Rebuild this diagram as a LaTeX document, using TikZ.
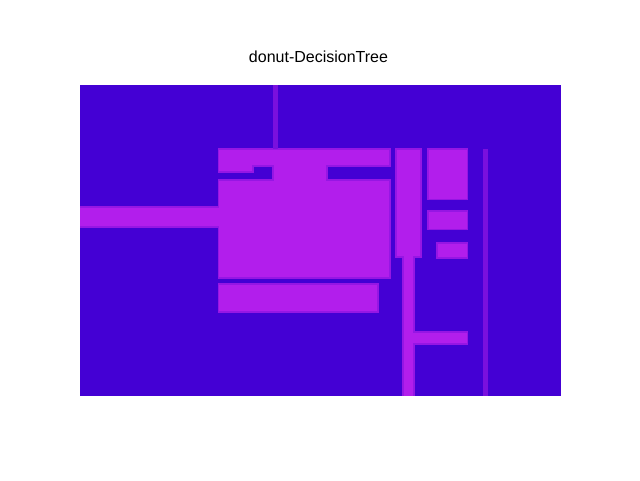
\documentclass[tikz,border=0pt]{standalone}
\usepackage{fontspec}
\setmainfont{Liberation Sans}
\definecolor{treeblue}{RGB}{68,0,212}
\definecolor{treeleaf}{RGB}{178,30,236}
\definecolor{treeedge}{RGB}{150,22,228}
\definecolor{treesplit}{RGB}{122,16,222}
\begin{document}
\begin{tikzpicture}[x=0.75pt,y=-0.75pt,
    leaf/.style={fill=treeleaf, draw=treeedge, line width=0.9pt, line join=miter},
    split/.style={fill=treesplit}]
        \useasboundingbox (0,0) rectangle (640,480);

        % Title
        \node (title) at (318.5,56.5) {\fontsize{12}{14}\selectfont donut-DecisionTree};

        % Background of the axes
        \fill[treeblue] (80,85) rectangle (561,396);

        \begin{scope}
        \clip (80,85) rectangle (561,395.5);

        % Left bar, upper pieces and big block
        \draw[leaf] (218.5,149) -- (390,149) -- (390,166) -- (327,166) -- (327,180)
            -- (390,180) -- (390,278) -- (218.5,278) -- (218.5,227) -- (78,227)
            -- (78,207) -- (218.5,207) -- (218.5,180) -- (273,180) -- (273,166)
            -- (253,166) -- (253,172) -- (218.5,172) -- cycle;

        % Block below the big one
        \draw[leaf] (218.5,284) rectangle (378,312);

        % Tall bar with its stem and arm
        \draw[leaf] (396,149) -- (421,149) -- (421,257) -- (414,257) -- (414,332)
            -- (467.5,332) -- (467.5,344) -- (414,344) -- (414,398) -- (403,398)
            -- (403,257) -- (396,257) -- cycle;

        % Small blocks on the right
        \draw[leaf] (428,149) rectangle (467.5,199.5);
        \draw[leaf] (428,211) rectangle (467.5,229.5);
        \draw[leaf] (437,243) rectangle (467.5,258);

        % Thin lines
        \fill[split] (273,85) rectangle (278,149);
        \fill[split] (483,149) rectangle (488,396);
        \end{scope}
\end{tikzpicture}
\end{document}
